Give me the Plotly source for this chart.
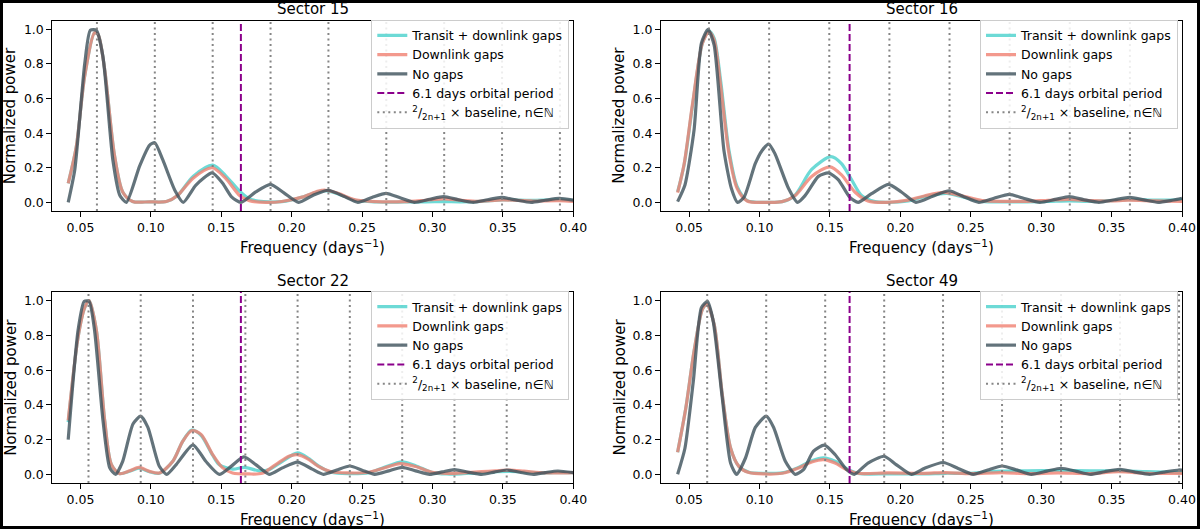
import plotly.graph_objects as go

# ---------------- data ----------------
sectors = ["Sector 15", "Sector 16", "Sector 22", "Sector 49"]
orbital_freq = 1 / 6.1  # 6.1 days orbital period

# Sector 15
s15_nogap_x = [0.0413, 0.046, 0.053, 0.057, 0.0613, 0.066, 0.073, 0.078, 0.0826, 0.092, 0.099, 0.1028, 0.1085, 0.117, 0.123, 0.132, 0.1435, 0.151, 0.1575, 0.164, 0.1745, 0.185, 0.1945, 0.205, 0.215, 0.226, 0.237, 0.247, 0.257, 0.267, 0.277, 0.287, 0.298, 0.308, 0.318, 0.329, 0.339, 0.349, 0.359, 0.37, 0.38, 0.39, 0.40]
s15_nogap_y = [0.0, 0.19, 0.80, 0.995, 0.995, 0.84, 0.245, 0.04, 0.0, 0.21, 0.33, 0.345, 0.245, 0.07, 0.0, 0.10, 0.17, 0.11, 0.03, 0.0, 0.06, 0.104, 0.055, 0.0, 0.04, 0.07, 0.035, 0.0, 0.028, 0.052, 0.026, 0.0, 0.018, 0.033, 0.016, 0.0, 0.015, 0.029, 0.014, 0.0, 0.012, 0.023, 0.013]
s15_dl_x = [0.0413, 0.047, 0.053, 0.060, 0.0625, 0.067, 0.074, 0.080, 0.087, 0.099, 0.111, 0.119, 0.130, 0.1435, 0.153, 0.163, 0.170, 0.182, 0.193, 0.2075, 0.219, 0.224, 0.232, 0.245, 0.26, 0.28, 0.295, 0.308, 0.32, 0.332, 0.35, 0.37, 0.39, 0.40]
s15_dl_y = [0.11, 0.32, 0.73, 0.98, 0.97, 0.78, 0.28, 0.06, 0.005, 0.003, 0.005, 0.04, 0.14, 0.20, 0.14, 0.04, 0.01, 0.0, 0.005, 0.03, 0.065, 0.07, 0.055, 0.015, 0.004, 0.004, 0.012, 0.02, 0.012, 0.006, 0.014, 0.008, 0.01, 0.005]
s15_tr_x = [0.0413, 0.047, 0.053, 0.060, 0.0625, 0.067, 0.074, 0.080, 0.087, 0.099, 0.111, 0.119, 0.130, 0.144, 0.153, 0.163, 0.170, 0.18, 0.193, 0.2075, 0.219, 0.224, 0.232, 0.245, 0.26, 0.28, 0.295, 0.308, 0.32, 0.335, 0.35, 0.37, 0.39, 0.40]
s15_tr_y = [0.11, 0.32, 0.73, 0.98, 0.97, 0.78, 0.28, 0.06, 0.005, 0.003, 0.005, 0.04, 0.15, 0.215, 0.155, 0.065, 0.02, 0.004, 0.004, 0.03, 0.062, 0.068, 0.052, 0.012, 0.002, 0.002, 0.003, 0.004, 0.003, 0.006, 0.014, 0.012, 0.015, 0.01]
s15_harm = [0.0617, 0.1028, 0.1439, 0.185, 0.2261, 0.2672, 0.3083, 0.3494, 0.3905]

# Sector 16
s16_nogap_x = [0.0418, 0.047, 0.0535, 0.0587, 0.0634, 0.0677, 0.0747, 0.080, 0.0844, 0.089, 0.097, 0.1018, 0.1065, 0.111, 0.1206, 0.127, 0.1324, 0.1418, 0.149, 0.156, 0.164, 0.170, 0.1795, 0.1915, 0.2007, 0.211, 0.223, 0.2346, 0.245, 0.2557, 0.2665, 0.2774, 0.288, 0.299, 0.31, 0.320, 0.33, 0.341, 0.352, 0.363, 0.373, 0.383, 0.393, 0.40]
s16_nogap_y = [0.004, 0.10, 0.42, 0.92, 1.0, 0.91, 0.30, 0.08, 0.0, 0.03, 0.225, 0.30, 0.337, 0.28, 0.08, 0.0, 0.04, 0.15, 0.17, 0.13, 0.03, 0.0, 0.05, 0.104, 0.06, 0.0, 0.035, 0.067, 0.033, 0.0, 0.024, 0.046, 0.022, 0.0, 0.017, 0.033, 0.016, 0.0, 0.015, 0.029, 0.014, 0.0, 0.012, 0.023]
s16_dl_x = [0.0418, 0.0465, 0.0524, 0.0594, 0.064, 0.0677, 0.0724, 0.0783, 0.0841, 0.0912, 0.104, 0.116, 0.1253, 0.137, 0.150, 0.158, 0.1677, 0.177, 0.191, 0.2055, 0.217, 0.231, 0.245, 0.258, 0.275, 0.29, 0.305, 0.32, 0.335, 0.35, 0.362, 0.38, 0.40]
s16_dl_y = [0.056, 0.225, 0.57, 0.92, 0.985, 0.94, 0.67, 0.28, 0.08, 0.008, 0.0, 0.004, 0.04, 0.15, 0.205, 0.16, 0.06, 0.008, 0.0, 0.013, 0.037, 0.058, 0.035, 0.01, 0.006, 0.006, 0.012, 0.017, 0.01, 0.008, 0.012, 0.008, 0.005]
s16_tr_x = [0.0418, 0.0465, 0.0524, 0.0594, 0.064, 0.0677, 0.0724, 0.0783, 0.0841, 0.0912, 0.104, 0.116, 0.125, 0.137, 0.1508, 0.158, 0.1654, 0.1724, 0.182, 0.191, 0.2055, 0.217, 0.233, 0.245, 0.258, 0.275, 0.29, 0.305, 0.32, 0.335, 0.35, 0.362, 0.38, 0.40]
s16_tr_y = [0.06, 0.22, 0.56, 0.92, 0.99, 0.95, 0.70, 0.30, 0.09, 0.01, 0.0, 0.004, 0.04, 0.19, 0.264, 0.225, 0.13, 0.04, 0.004, 0.0, 0.008, 0.033, 0.052, 0.03, 0.006, 0.003, 0.003, 0.005, 0.008, 0.006, 0.01, 0.015, 0.013, 0.015]
s16_harm = [0.0641, 0.1068, 0.1495, 0.1922, 0.2349, 0.2776, 0.3203, 0.363, 0.4057]

# Sector 22
s22_nogap_x = [0.0413, 0.0483, 0.0526, 0.0561, 0.060, 0.066, 0.0708, 0.075, 0.080, 0.0873, 0.0928, 0.0979, 0.106, 0.1113, 0.118, 0.1299, 0.139, 0.1486, 0.157, 0.166, 0.1745, 0.184, 0.1934, 0.2042, 0.2146, 0.2225, 0.232, 0.2413, 0.25, 0.259, 0.269, 0.2785, 0.288, 0.298, 0.307, 0.3156, 0.325, 0.335, 0.344, 0.3527, 0.362, 0.3716, 0.38, 0.389, 0.40]
s22_nogap_y = [0.20, 0.83, 0.996, 0.996, 0.83, 0.31, 0.037, 0.0, 0.075, 0.29, 0.335, 0.27, 0.046, 0.0, 0.056, 0.17, 0.075, 0.0, 0.046, 0.10, 0.056, 0.0, 0.037, 0.07, 0.03, 0.0, 0.025, 0.048, 0.024, 0.0, 0.02, 0.04, 0.02, 0.0, 0.014, 0.027, 0.013, 0.0, 0.013, 0.025, 0.012, 0.0, 0.01, 0.019, 0.01]
s22_dl_x = [0.0413, 0.0483, 0.053, 0.0561, 0.0613, 0.0672, 0.072, 0.0778, 0.085, 0.0915, 0.099, 0.106, 0.1156, 0.1226, 0.1292, 0.1356, 0.1439, 0.151, 0.158, 0.1698, 0.179, 0.1887, 0.198, 0.204, 0.2123, 0.219, 0.228, 0.24, 0.255, 0.265, 0.277, 0.288, 0.30, 0.31, 0.32, 0.335, 0.345, 0.355, 0.365, 0.38, 0.39, 0.40]
s22_dl_y = [0.31, 0.79, 0.96, 1.0, 0.83, 0.31, 0.056, 0.004, 0.02, 0.04, 0.017, 0.008, 0.075, 0.19, 0.252, 0.23, 0.114, 0.037, 0.008, 0.002, 0.006, 0.056, 0.104, 0.113, 0.085, 0.046, 0.015, 0.008, 0.012, 0.035, 0.062, 0.045, 0.012, 0.005, 0.008, 0.015, 0.02, 0.024, 0.018, 0.008, 0.008, 0.01]
s22_tr_x = [0.0413, 0.0483, 0.053, 0.0561, 0.0613, 0.0672, 0.072, 0.0778, 0.085, 0.0915, 0.099, 0.106, 0.1156, 0.1226, 0.129, 0.1356, 0.1439, 0.1486, 0.158, 0.1665, 0.177, 0.184, 0.1934, 0.2042, 0.2123, 0.219, 0.228, 0.24, 0.255, 0.265, 0.2785, 0.288, 0.30, 0.31, 0.32, 0.335, 0.345, 0.355, 0.365, 0.38, 0.39, 0.40]
s22_tr_y = [0.30, 0.79, 0.96, 1.0, 0.83, 0.31, 0.056, 0.004, 0.018, 0.035, 0.015, 0.006, 0.075, 0.19, 0.255, 0.225, 0.11, 0.055, 0.03, 0.04, 0.02, 0.027, 0.075, 0.123, 0.09, 0.048, 0.012, 0.004, 0.01, 0.038, 0.072, 0.05, 0.01, 0.002, 0.003, 0.01, 0.015, 0.017, 0.014, 0.008, 0.01, 0.01]
s22_harm = [0.0557, 0.0928, 0.1299, 0.1671, 0.2042, 0.2413, 0.2785, 0.3156, 0.3527]

# Sector 49
s49_nogap_x = [0.0418, 0.047, 0.053, 0.0587, 0.063, 0.067, 0.0735, 0.0794, 0.0837, 0.090, 0.097, 0.1047, 0.110, 0.1183, 0.1253, 0.1312, 0.1383, 0.146, 0.1536, 0.1618, 0.1673, 0.177, 0.1885, 0.197, 0.2078, 0.2172, 0.2305, 0.241, 0.2517, 0.262, 0.2722, 0.283, 0.293, 0.304, 0.3141, 0.325, 0.335, 0.345, 0.356, 0.366, 0.377, 0.387, 0.3976, 0.40]
s49_nogap_y = [0.0, 0.15, 0.54, 0.96, 0.996, 0.885, 0.44, 0.065, 0.0, 0.094, 0.27, 0.335, 0.27, 0.075, 0.0, 0.027, 0.133, 0.168, 0.114, 0.027, 0.0, 0.065, 0.104, 0.056, 0.0, 0.035, 0.068, 0.034, 0.0, 0.025, 0.048, 0.024, 0.0, 0.018, 0.035, 0.017, 0.0, 0.015, 0.029, 0.014, 0.0, 0.013, 0.025, 0.024]
s49_dl_x = [0.0418, 0.0476, 0.0535, 0.0594, 0.0625, 0.0677, 0.0735, 0.0794, 0.0853, 0.0924, 0.104, 0.116, 0.1277, 0.137, 0.1454, 0.1536, 0.1618, 0.170, 0.191, 0.217, 0.232, 0.25, 0.272, 0.29, 0.312, 0.335, 0.355, 0.375, 0.40]
s49_dl_y = [0.127, 0.38, 0.71, 0.95, 0.98, 0.865, 0.46, 0.152, 0.046, 0.01, 0.002, 0.006, 0.037, 0.071, 0.085, 0.065, 0.027, 0.006, 0.008, 0.006, 0.01, 0.004, 0.01, 0.004, 0.008, 0.004, 0.015, 0.006, 0.005]
s49_tr_x = [0.0418, 0.0476, 0.0535, 0.0594, 0.0625, 0.0677, 0.0735, 0.0794, 0.0853, 0.0924, 0.104, 0.116, 0.1277, 0.137, 0.1454, 0.1536, 0.1618, 0.170, 0.191, 0.217, 0.232, 0.25, 0.272, 0.29, 0.312, 0.335, 0.355, 0.375, 0.40]
s49_tr_y = [0.127, 0.38, 0.71, 0.95, 0.98, 0.865, 0.46, 0.152, 0.046, 0.012, 0.006, 0.008, 0.04, 0.078, 0.095, 0.075, 0.032, 0.005, 0.003, 0.003, 0.006, 0.006, 0.018, 0.02, 0.022, 0.02, 0.02, 0.015, 0.01]
s49_harm = [0.0628, 0.1047, 0.1466, 0.1885, 0.2303, 0.2722, 0.3141, 0.356, 0.3979]

x_ticks = [0.05, 0.10, 0.15, 0.20, 0.25, 0.30, 0.35, 0.40]
y_ticks = [0.0, 0.2, 0.4, 0.6, 0.8, 1.0]

panels = [
    (s15_tr_x, s15_tr_y, s15_dl_x, s15_dl_y, s15_nogap_x, s15_nogap_y, s15_harm),
    (s16_tr_x, s16_tr_y, s16_dl_x, s16_dl_y, s16_nogap_x, s16_nogap_y, s16_harm),
    (s22_tr_x, s22_tr_y, s22_dl_x, s22_dl_y, s22_nogap_x, s22_nogap_y, s22_harm),
    (s49_tr_x, s49_tr_y, s49_dl_x, s49_dl_y, s49_nogap_x, s49_nogap_y, s49_harm),
]

# ---------------- styling / layout ----------------
W, H = 1200, 529
FONT = "DejaVu Sans"
C_TR = "rgba(72,209,204,0.8)"
C_DL = "rgba(240,128,112,0.8)"
C_NG = "rgba(60,80,90,0.8)"
C_ORB = "#8b008b"
C_HARM = "rgba(128,128,128,0.95)"

XR = [0.03, 0.40]
YR = [-0.05, 1.05]

# axes boxes in pixels (left, right, top, bottom)
boxes = [(52.3, 573.3, 20.7, 211.0), (661.0, 1182.0, 20.7, 211.0),
         (52.3, 573.3, 292.0, 483.0), (661.0, 1182.0, 292.0, 483.0)]

fig = go.Figure()
layout = dict(
    width=W, height=H, margin=dict(l=0, r=0, t=0, b=0, pad=0),
    paper_bgcolor="white", plot_bgcolor="white",
    font=dict(family=FONT, size=12.5, color="black"),
    showlegend=True,
)
annotations = []
legend_label = "<sup>2</sup>/<sub>2n+1</sub> × baseline, n∈ℕ"

for i, (trx, tr_y, dlx, dly, ngx, ngy, harm) in enumerate(panels):
    k = "" if i == 0 else str(i + 1)
    xa, ya = "x" + k, "y" + k
    lg = "legend" + k
    l, r, t, b = boxes[i]
    xd = [l / W, r / W]
    yd = [1 - b / H, 1 - t / H]

    common = dict(xaxis=xa, yaxis=ya, legend=lg, mode="lines")
    fig.add_trace(go.Scatter(x=trx, y=tr_y, name="Transit + downlink gaps",
                             line=dict(color=C_TR, width=3.2, shape="spline", smoothing=0.8), **common))
    fig.add_trace(go.Scatter(x=dlx, y=dly, name="Downlink gaps",
                             line=dict(color=C_DL, width=3.2, shape="spline", smoothing=0.8), **common))
    fig.add_trace(go.Scatter(x=ngx, y=ngy, name="No gaps",
                             line=dict(color=C_NG, width=3.2, shape="spline", smoothing=0.6), **common))
    fig.add_trace(go.Scatter(x=[orbital_freq, orbital_freq], y=YR, name="6.1 days orbital period",
                             line=dict(color=C_ORB, width=2, dash="7px,3px"), **common))
    hx, hy = [], []
    for v in harm:
        hx += [v, v, None]
        hy += [YR[0], YR[1], None]
    fig.add_trace(go.Scatter(x=hx, y=hy, name=legend_label,
                             line=dict(color=C_HARM, width=2, dash="2px,3.5px"), **common))

    layout["xaxis" + k] = dict(domain=xd, anchor=ya, range=XR, tickvals=x_ticks, tickformat=".2f",
                               showline=True, mirror=True, linecolor="black", linewidth=1,
                               ticks="outside", ticklen=5, tickcolor="black", showgrid=False,
                               zeroline=False, automargin=False, tickfont=dict(size=12.5))
    layout["yaxis" + k] = dict(domain=yd, anchor=xa, range=YR, tickvals=y_ticks, tickformat=".1f",
                               showline=True, mirror=True, linecolor="black", linewidth=1,
                               ticks="outside", ticklen=5, tickcolor="black", showgrid=False,
                               zeroline=False, automargin=False, tickfont=dict(size=12.5))
    layout[lg] = dict(x=(r - 4) / W, y=1 - (t - 1) / H, xanchor="right", yanchor="top",
                      bgcolor="rgba(255,255,255,0.85)", bordercolor="#cccccc", borderwidth=1,
                      font=dict(family=FONT, size=12.5), itemwidth=30, tracegroupgap=0)

    cx = (l + r) / 2 / W
    annotations.append(dict(text=sectors[i], x=cx, y=1 - (t - 11.5) / H, xref="paper", yref="paper",
                            showarrow=False, font=dict(size=15), xanchor="center", yanchor="middle"))
    annotations.append(dict(text="Frequency (days<sup>−1</sup>)", x=cx, y=1 - (b + 35.5) / H,
                            xref="paper", yref="paper", showarrow=False, font=dict(size=15),
                            xanchor="center", yanchor="middle"))
    annotations.append(dict(text="Normalized power", x=(l - 42) / W, y=1 - (t + b) / 2 / H,
                            xref="paper", yref="paper", showarrow=False, font=dict(size=15),
                            textangle=-90, xanchor="center", yanchor="middle"))

layout["annotations"] = annotations
layout["shapes"] = [dict(type="rect", xref="paper", yref="paper", x0=0, x1=1, y0=0, y1=1,
                         line=dict(color="black", width=6), fillcolor="rgba(0,0,0,0)")]
fig.update_layout(**layout)
fig.write_html(
    "out.html",
    config={"displayModeBar": False},
    post_script="document.body.style.margin='0';",
)
